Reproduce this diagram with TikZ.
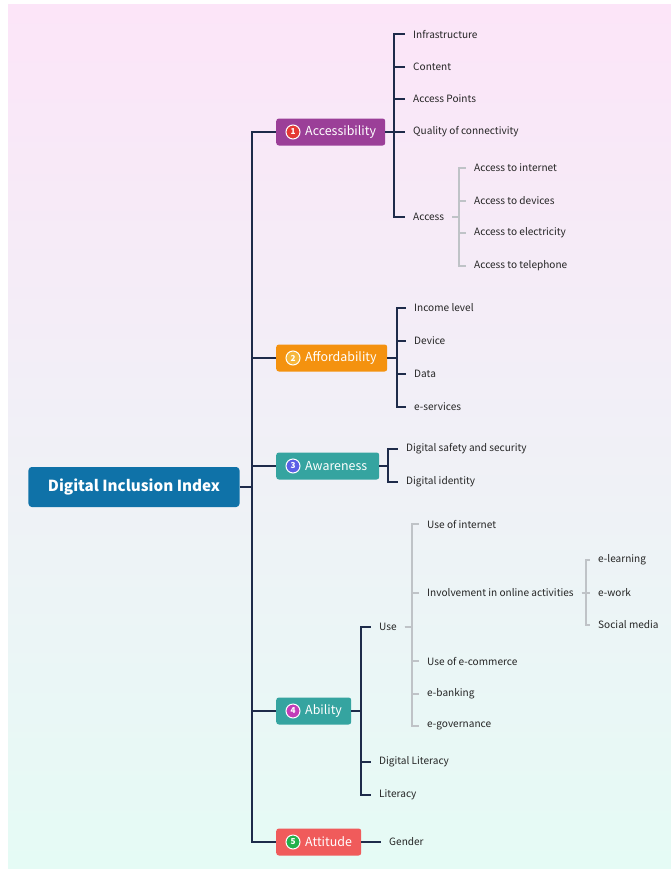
\documentclass[tikz,border=0pt]{standalone}
\usepackage{fontspec}
\setmainfont{Noto Sans CJK SC}
\usetikzlibrary{positioning}

\definecolor{bgtop}{HTML}{FCE5F8}
\definecolor{bgmid}{HTML}{F2F1F8}
\definecolor{bgbot}{HTML}{E5FBF5}
\definecolor{rootcol}{HTML}{0F72A8}
\definecolor{acccol}{HTML}{9B3F98}
\definecolor{affcol}{HTML}{F4920F}
\definecolor{tealcol}{HTML}{35A4A0}
\definecolor{attcol}{HTML}{F05B5B}
\definecolor{numone}{HTML}{E53935}
\definecolor{numtwo}{HTML}{F6B73C}
\definecolor{numthree}{HTML}{5B5FE6}
\definecolor{numfour}{HTML}{C23DB8}
\definecolor{numfive}{HTML}{22B14C}
\definecolor{linecol}{HTML}{1E2B4A}
\definecolor{twigcol}{HTML}{BFC3C7}
\definecolor{txtcol}{HTML}{262626}

\begin{document}
\begin{tikzpicture}[
    x=0.3mm, y=-0.3mm,
    root/.style={rectangle, rounded corners=1mm, fill=rootcol, text=white, font=\fontsize{13}{15}\selectfont\bfseries, minimum width=63.3mm, minimum height=12mm},
    topic/.style={rectangle, rounded corners=0.8mm, text=white, font=\fontsize{10.6}{12}\selectfont, anchor=west, minimum height=8.1mm, inner xsep=1.5mm, inner ysep=0pt, align=left},
    badge/.style={circle, draw=white, line width=0.3mm, text=white, font=\fontsize{7}{8}\selectfont\bfseries, inner sep=0pt, minimum size=4.2mm},
    leaf/.style={anchor=west, inner xsep=2.4mm, inner ysep=1pt, text=txtcol, font=\fontsize{8.6}{10}\selectfont},
    trunk/.style={draw=linecol, line width=0.6mm},
    twig/.style={draw=twigcol, line width=0.55mm}
]

\useasboundingbox (0,0) rectangle (671,869);
\shade[top color=bgtop, middle color=bgmid, bottom color=bgbot] (8,4) rectangle (671,869);


\coordinate (trunk) at (252,487);


\node[root] (index) at (134,487) {Digital Inclusion Index};

\node[topic, fill=acccol, text width=29.7mm] (acc) at (276,132) {\hspace*{7.2mm}\mbox{Accessibility}};
\node[topic, fill=affcol, text width=30.3mm] (aff) at (276,358) {\hspace*{7.2mm}\mbox{Affordability}};
\node[topic, fill=tealcol, text width=27.9mm] (awa) at (276,466) {\hspace*{7.2mm}\mbox{Awareness}};
\node[topic, fill=tealcol, text width=19.5mm] (abi) at (276,711) {\hspace*{7.2mm}\mbox{Ability}};
\node[topic, fill=attcol, text width=22.5mm] (att) at (276,842) {\hspace*{7.2mm}\mbox{Attitude}};

\node[badge, fill=numone] (acc_num) at ([xshift=5.1mm]acc.west) {1};
\node[badge, fill=numtwo] (aff_num) at ([xshift=5.1mm]aff.west) {2};
\node[badge, fill=numthree] (awa_num) at ([xshift=5.1mm]awa.west) {3};
\node[badge, fill=numfour] (abi_num) at ([xshift=5.1mm]abi.west) {4};
\node[badge, fill=numfive] (att_num) at ([xshift=5.1mm]att.west) {5};


\node[leaf] (infra) at (405,34) {Infrastructure};
\node[leaf] (content) at (405,67) {Content};
\node[leaf] (points) at (405,99) {Access Points};
\node[leaf] (quality) at (405,132) {Quality of connectivity};
\node[leaf] (access) at (405,217) {Access};

\node[leaf] (internet) at (466,168) {Access to internet};
\node[leaf] (devices) at (466,201) {Access to devices};
\node[leaf] (electricity) at (466,233) {Access to electricity};
\node[leaf] (telephone) at (466,266) {Access to telephone};


\node[leaf] (income) at (406,308) {Income level};
\node[leaf] (device) at (406,341) {Device};
\node[leaf] (data) at (406,374) {Data};
\node[leaf] (eservices) at (406,407) {e-services};


\node[leaf] (safety) at (398,449) {Digital safety and security};
\node[leaf] (identity) at (398,482) {Digital identity};


\node[leaf] (use) at (371,627) {Use};
\node[leaf] (diglit) at (371,762) {Digital Literacy};
\node[leaf] (literacy) at (371,795) {Literacy};

\node[leaf] (useint) at (419,524) {Use of internet};
\node[leaf] (involve) at (419,593) {Involvement in online activities};
\node[leaf] (ecommerce) at (419,661) {Use of e-commerce};
\node[leaf] (ebanking) at (419,694) {e-banking};
\node[leaf] (egov) at (419,726) {e-governance};

\node[leaf] (elearning) at (590,560) {e-learning};
\node[leaf] (ework) at (590,593) {e-work};
\node[leaf] (social) at (590,625) {Social media};


\node[leaf] (gender) at (381,842) {Gender};


% trunk
\draw[trunk] (index.east) -- (trunk);
\foreach \t in {acc,aff,awa,abi,att}
    \draw[trunk] (trunk) |- (\t.west);

% branches
\foreach \c in {infra,content,points,quality,access}
    \draw[trunk] (acc.east) -- ++(9,0) |- (\c.west);
\foreach \c in {internet,devices,electricity,telephone}
    \draw[twig] (access.east) -- ++(7,0) |- (\c.west);

\foreach \c in {income,device,data,eservices}
    \draw[trunk] (aff.east) -- ++(10,0) |- (\c.west);

\foreach \c in {safety,identity}
    \draw[trunk] (awa.east) -- ++(9,0) |- (\c.west);

\foreach \c in {use,diglit,literacy}
    \draw[trunk] (abi.east) -- ++(10,0) |- (\c.west);
\foreach \c in {useint,involve,ecommerce,ebanking,egov}
    \draw[twig] (use.east) -- ++(7,0) |- (\c.west);
\foreach \c in {elearning,ework,social}
    \draw[twig] (involve.east) -- ++(4,0) |- (\c.west);

\draw[trunk] (att.east) -- (gender.west);

\end{tikzpicture}
\end{document}
